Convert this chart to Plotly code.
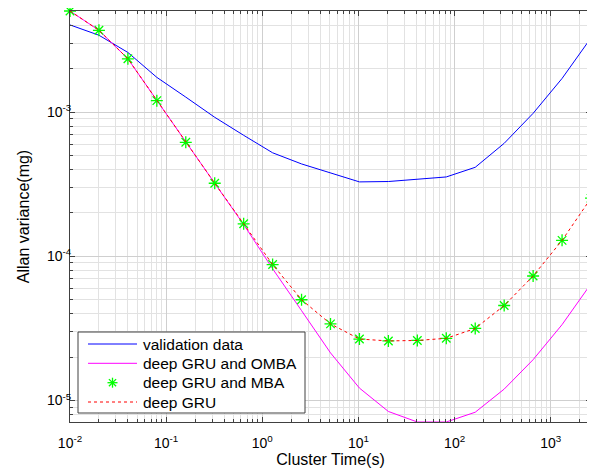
import plotly.graph_objects as go
import numpy as np

cluster_time = [0.01, 0.02, 0.04, 0.08, 0.16, 0.32, 0.64, 1.28, 2.56, 5.12,
                10.24, 20.48, 40.96, 81.92, 163.84, 327.68, 655.36, 1310.72, 2621.44]

validation = [4.02e-3, 3.41e-3, 2.59e-3, 1.74e-3, 1.27e-3, 9.2e-4, 6.9e-4, 5.22e-4,
              4.37e-4, 3.77e-4, 3.28e-4, 3.30e-4, 3.42e-4, 3.55e-4, 4.14e-4,
              6.07e-4, 9.8e-4, 1.71e-3, 3.27e-3]

gru_omba = [5.02e-3, 3.69e-3, 2.34e-3, 1.20e-3, 6.17e-4, 3.21e-4, 1.66e-4, 8.2e-5,
            4.2e-5, 2.14e-5, 1.22e-5, 8.4e-6, 7.1e-6, 7.1e-6, 8.3e-6,
            1.2e-5, 1.92e-5, 3.36e-5, 6.45e-5]

gru_mba = [5.02e-3, 3.69e-3, 2.34e-3, 1.20e-3, 6.17e-4, 3.21e-4, 1.68e-4, 8.77e-5,
           5.0e-5, 3.4e-5, 2.67e-5, 2.59e-5, 2.61e-5, 2.70e-5, 3.16e-5,
           4.56e-5, 7.3e-5, 1.29e-4, 2.53e-4]

gru = [5.02e-3, 3.69e-3, 2.34e-3, 1.20e-3, 6.17e-4, 3.21e-4, 1.68e-4, 8.77e-5,
       5.0e-5, 3.4e-5, 2.67e-5, 2.59e-5, 2.61e-5, 2.70e-5, 3.16e-5,
       4.56e-5, 7.3e-5, 1.29e-4, 2.53e-4]

series_names = ["validation data", "deep GRU and OMBA", "deep GRU and MBA", "deep GRU"]

x_major = [1e-2, 1e-1, 1e0, 1e1, 1e2, 1e3]
x_labels = ["10<sup>-2</sup>", "10<sup>-1</sup>", "10<sup>0</sup>", "10<sup>1</sup>",
            "10<sup>2</sup>", "10<sup>3</sup>"]
y_major = [1e-5, 1e-4, 1e-3]
y_labels = ["10<sup>-5</sup>", "10<sup>-4</sup>", "10<sup>-3</sup>"]

x_minor = [m * 10.0 ** e for e in range(-2, 4) for m in range(2, 10)]
y_minor = [m * 10.0 ** e for e in range(-6, -2) for m in range(2, 10)]

eps = 1e-6
x_range = [np.log10(min(cluster_time)) - eps, np.log10(max(cluster_time)) + eps]
all_y = validation + gru_omba + gru_mba + gru
y_range = [np.log10(min(all_y)) - eps, np.log10(max(all_y)) + eps]

BLUE, MAGENTA, GREEN, RED = "#0000ff", "#ff00ff", "#00ff00", "#ff0000"

fig = go.Figure()
fig.add_trace(go.Scatter(x=cluster_time, y=validation, mode="lines",
                         name=series_names[0], showlegend=False,
                         line=dict(color=BLUE, width=1)))
fig.add_trace(go.Scatter(x=cluster_time, y=gru_omba, mode="lines",
                         name=series_names[1], showlegend=False,
                         line=dict(color=MAGENTA, width=1)))
fig.add_trace(go.Scatter(x=cluster_time, y=gru_mba, mode="markers",
                         name=series_names[2], cliponaxis=False, showlegend=False,
                         marker=dict(symbol="asterisk-open", size=10,
                                     line=dict(color=GREEN, width=1.3),
                                     color=GREEN)))
fig.add_trace(go.Scatter(x=cluster_time, y=gru, mode="lines",
                         name=series_names[3], showlegend=False,
                         line=dict(color=RED, width=1, dash="dot")))

font = "Liberation Sans, Arial, sans-serif"
axis_common = dict(
    type="log", automargin=False,
    showline=True, linecolor="#404040", linewidth=1, mirror="allticks",
    ticks="inside", ticklen=5, tickcolor="#404040", tickwidth=1,
    showgrid=True, gridcolor="#cfcfcf", gridwidth=1,
    zeroline=False,
    tickfont=dict(family=font, size=14, color="#000"),
)

fig.update_xaxes(**axis_common, range=x_range,
                 tickmode="array", tickvals=x_major, ticktext=x_labels,
                 ticklabelstandoff=8,
                 minor=dict(tickmode="array", tickvals=x_minor, ticks="inside",
                            ticklen=3, tickcolor="#404040", showgrid=True,
                            gridcolor="#e2e2e2", gridwidth=1),
                 title=dict(text="Cluster Time(s)", font=dict(family=font, size=16, color="#000"),
                            standoff=3))
fig.update_yaxes(**axis_common, range=y_range,
                 tickmode="array", tickvals=y_major, ticktext=y_labels,
                 ticklabelstandoff=-5,
                 minor=dict(tickmode="array", tickvals=y_minor, ticks="inside",
                            ticklen=3, tickcolor="#404040", showgrid=True,
                            gridcolor="#e2e2e2", gridwidth=1),
                 title=dict(text="Allan variance(mg)", font=dict(family=font, size=16, color="#000"),
                            standoff=13))

# plot area in window pixels: x 70..591, y 11..422 (page body has an 8px margin)
PX0, PX1, PY0, PY1 = 70.0, 591.0, 11.0, 422.0
def xp(sx):
    return (sx - PX0) / (PX1 - PX0)
def yp(sy):
    return (PY1 - sy) / (PY1 - PY0)

shapes = [dict(type="rect", xref="paper", yref="paper", layer="above",
               x0=xp(78), x1=xp(305), y0=yp(413), y1=yp(332),
               line=dict(color="#404040", width=1), fillcolor="white")]
rows = [344.0, 363.3, 382.7, 402.0]
styles = [dict(color=BLUE, width=1), dict(color=MAGENTA, width=1), None,
          dict(color=RED, width=1, dash="dot")]
annotations = []
for name, row, st in zip(series_names, rows, styles):
    if st is not None:
        shapes.append(dict(type="line", xref="paper", yref="paper", layer="above",
                           x0=xp(88), x1=xp(137), y0=yp(row), y1=yp(row), line=st))
    else:
        cx, cy, r, d = 112.5, row, 5.0, 3.6
        for dx, dy in [(r, 0), (0, r), (d, d), (d, -d)]:
            shapes.append(dict(type="line", xref="paper", yref="paper", layer="above",
                               x0=xp(cx - dx), x1=xp(cx + dx), y0=yp(cy - dy), y1=yp(cy + dy),
                               line=dict(color=GREEN, width=1.3)))
    annotations.append(dict(text=name, xref="paper", yref="paper", showarrow=False,
                            x=xp(141), y=yp(row), xanchor="left", yanchor="middle",
                            font=dict(family=font, size=15.5, color="#000")))

fig.update_layout(
    template="none",
    width=587, height=464,
    margin=dict(l=62, r=4, t=3, b=50, autoexpand=False),
    paper_bgcolor="white", plot_bgcolor="white",
    font=dict(family=font, size=14, color="#000"),
    showlegend=False,
    shapes=shapes,
    annotations=annotations,
)

fig.write_html("out.html")
